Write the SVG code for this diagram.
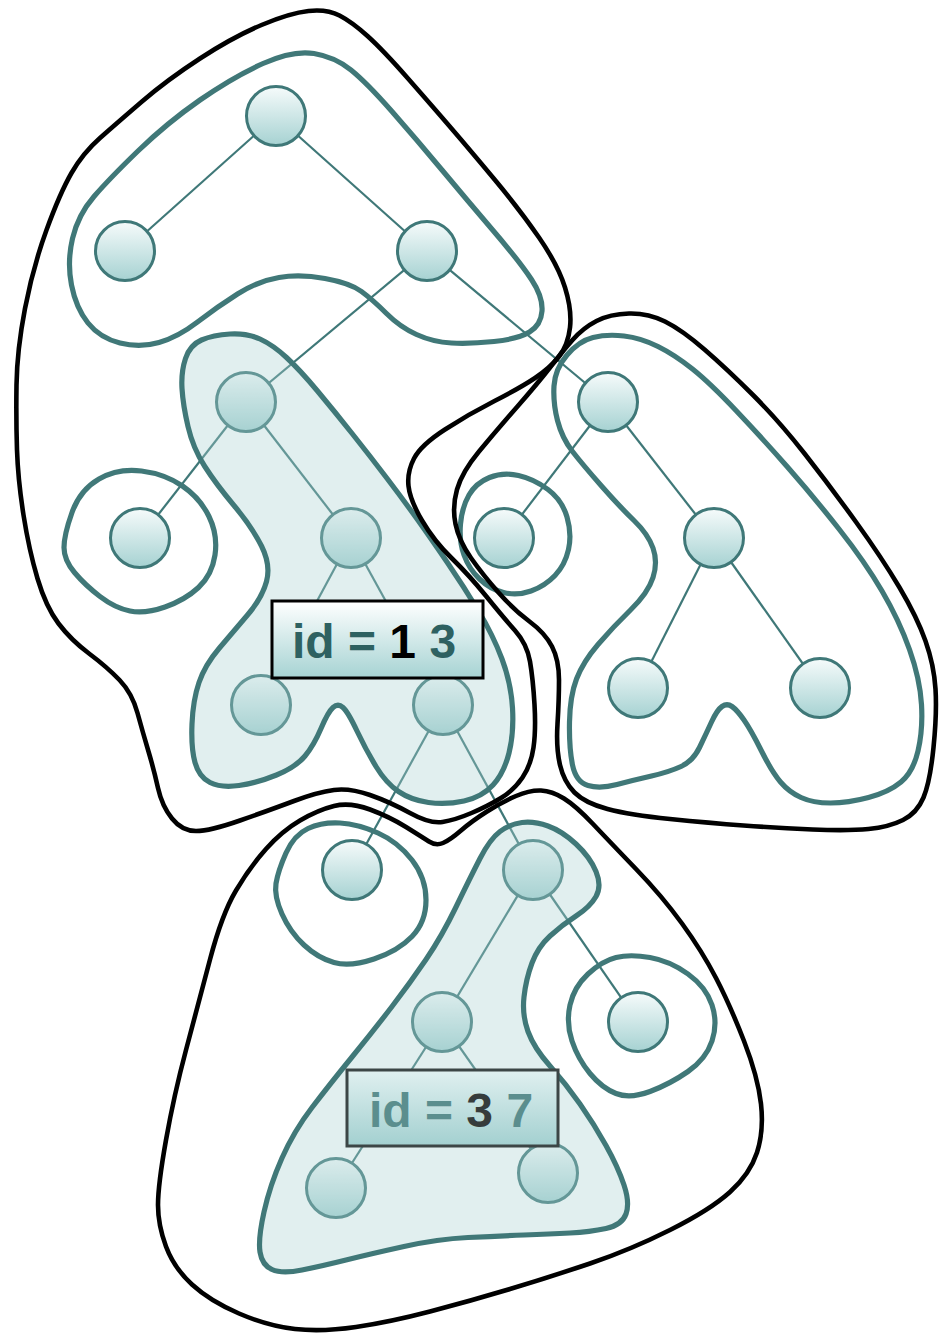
<svg xmlns="http://www.w3.org/2000/svg" width="940" height="1337" viewBox="0 0 940 1337">
<defs>
<linearGradient id="ng" x1="0" y1="0" x2="0" y2="1"><stop offset="0" stop-color="#f6fbfb"/><stop offset="1" stop-color="#a6d2d2"/></linearGradient>
<linearGradient id="bg1" x1="0" y1="0" x2="0" y2="1"><stop offset="0" stop-color="#ffffff"/><stop offset="1" stop-color="#a6d3d3"/></linearGradient>
<linearGradient id="bg2" x1="0" y1="0" x2="0" y2="1"><stop offset="0" stop-color="#e0f0f0"/><stop offset="1" stop-color="#a3d0d0"/></linearGradient>
<style>
.e{stroke:#3f7878;stroke-width:2.2;fill:none}
.n{fill:url(#ng);stroke:#3f7878;stroke-width:3}
.t{fill:none;stroke:#407878;stroke-width:5.2}
.s{fill:#a8d2d2;fill-opacity:0.35;stroke:#407878;stroke-width:5.2}
.k{fill:none;stroke:#000;stroke-width:4.6}
.lb{font-family:"Liberation Sans",Arial,sans-serif;font-weight:bold;font-size:48px}
</style>
</defs>
<g id="connectors">
<line class="e" x1="276" y1="116" x2="125" y2="251"/>
<line class="e" x1="276" y1="116" x2="427" y2="251"/>
<line class="e" x1="427" y1="251" x2="246" y2="402"/>
<line class="e" x1="427" y1="251" x2="608" y2="402"/>
<line class="e" x1="246" y1="402" x2="140" y2="538"/>
<line class="e" x1="246" y1="402" x2="351" y2="538"/>
<line class="e" x1="351" y1="538" x2="261" y2="705"/>
<line class="e" x1="351" y1="538" x2="443" y2="705"/>
<line class="e" x1="608" y1="402" x2="504" y2="538"/>
<line class="e" x1="608" y1="402" x2="714" y2="538"/>
<line class="e" x1="714" y1="538" x2="638" y2="688"/>
<line class="e" x1="714" y1="538" x2="820" y2="688"/>
<line class="e" x1="443" y1="705" x2="352" y2="870"/>
<line class="e" x1="443" y1="705" x2="533" y2="870"/>
<line class="e" x1="533" y1="870" x2="442" y2="1022"/>
<line class="e" x1="533" y1="870" x2="638" y2="1022"/>
<line class="e" x1="442" y1="1022" x2="336" y2="1188"/>
<line class="e" x1="442" y1="1022" x2="548" y2="1173"/>
</g>
<g id="n1"><circle class="n" cx="276" cy="116" r="29.5"/></g>
<g id="n2"><circle class="n" cx="125" cy="251" r="29.5"/></g>
<g id="n3"><circle class="n" cx="427" cy="251" r="29.5"/></g>
<g id="n4"><circle class="n" cx="246" cy="402" r="29.5"/></g>
<g id="n5"><circle class="n" cx="140" cy="538" r="29.5"/></g>
<g id="n6"><circle class="n" cx="351" cy="538" r="29.5"/></g>
<g id="n7"><circle class="n" cx="261" cy="705" r="29.5"/></g>
<g id="n8"><circle class="n" cx="443" cy="705" r="29.5"/></g>
<g id="n9"><circle class="n" cx="608" cy="402" r="29.5"/></g>
<g id="n10"><circle class="n" cx="504" cy="538" r="29.5"/></g>
<g id="n11"><circle class="n" cx="714" cy="538" r="29.5"/></g>
<g id="n12"><circle class="n" cx="638" cy="688" r="29.5"/></g>
<g id="n13"><circle class="n" cx="820" cy="688" r="29.5"/></g>
<g id="n14"><circle class="n" cx="352" cy="870" r="29.5"/></g>
<g id="n15"><circle class="n" cx="533" cy="870" r="29.5"/></g>
<g id="n16"><circle class="n" cx="638" cy="1022" r="29.5"/></g>
<g id="n17"><circle class="n" cx="442" cy="1022" r="29.5"/></g>
<g id="n18"><circle class="n" cx="336" cy="1188" r="29.5"/></g>
<g id="n19"><circle class="n" cx="548" cy="1173" r="29.5"/></g>
<g id="clusters">
<path id="c-top" class="t" d="M71.5,285 Q67,262 72.5,238.5 Q78,215 94,196.5 Q110,178 138.5,150.5 Q167,123 200,100 Q233,77 263,63.5 Q293,50 314,53.5 Q335,57 351,70 Q367,83 392,111.5 Q417,140 442,170 Q467,200 493.5,231 Q520,262 531.5,279.5 Q543,297 542,311 Q541,325 529.5,332 Q518,339 494,341.5 Q470,344 451.5,343 Q433,342 416.5,334.5 Q400,327 386.5,313.5 Q373,300 361.5,291.5 Q350,283 325,278.5 Q300,274 279,277.5 Q258,281 237.5,294 Q217,307 197.5,322 Q178,337 159,342.5 Q140,348 120,343 Q100,338 88,323 Q76,308 71.5,285 Z"/>
<path id="c-e" class="t" d="M64,547.5 Q64,535 72,512.5 Q80,490 99,479 Q118,468 141.5,471 Q165,474 182.5,486 Q200,498 209,516.5 Q218,535 215,555 Q212,575 198.5,587.5 Q185,600 165,607 Q145,614 130,611 Q115,608 100,596.5 Q85,585 74.5,572.5 Q64,560 64,547.5 Z"/>
<path id="c-13" class="s" d="M182,388.5 Q181,372 185.5,358.5 Q190,345 201.5,340 Q213,335 230,334 Q247,333 260,339 Q273,345 286.5,357.5 Q300,370 317.5,391 Q335,412 352.5,434 Q370,456 387.5,479 Q405,502 418.5,521 Q432,540 448,563.5 Q464,587 478.5,611 Q493,635 502,659 Q511,683 512.5,708 Q514,733 509,753 Q504,773 493,785 Q482,797 464,801 Q446,805 428.5,802.5 Q411,800 398.5,791.5 Q386,783 376,766.5 Q366,750 357,731 Q348,712 343,707.5 Q338,703 333,707.5 Q328,712 321,728.5 Q314,745 305,756 Q296,767 276.5,775 Q257,783 239,785.5 Q221,788 210,782.5 Q199,777 195,762.5 Q191,748 192,724 Q193,700 199,682.5 Q205,665 219,648.5 Q233,632 247.5,615 Q262,598 266.5,581.5 Q271,565 261.5,546 Q252,527 234,505.5 Q216,484 204.5,466 Q193,448 188,426.5 Q183,405 182,388.5 Z"/>
<path id="c-right" class="t" d="M554,386 Q555,369 567,355 Q579,341 593,337.5 Q607,334 624,336 Q641,338 658,346.5 Q675,355 692.5,369 Q710,383 736,410.5 Q762,438 787.5,467 Q813,496 839,529 Q865,562 882,591 Q899,620 909.5,649.5 Q920,679 921.5,704.5 Q923,730 918,751 Q913,772 901,782 Q889,792 868.5,797.5 Q848,803 830.5,803 Q813,803 801,797.5 Q789,792 780.5,782 Q772,772 761.5,751 Q751,730 744,720 Q737,710 732,706.5 Q727,703 722,706.5 Q717,710 711.5,722 Q706,734 699.5,747.5 Q693,761 681,766.5 Q669,772 651.5,776 Q634,780 617,784.5 Q600,789 588,785.5 Q576,782 572.5,765 Q569,748 569.5,722 Q570,696 576.5,679 Q583,662 598,644.5 Q613,627 630.5,610 Q648,593 653,577.5 Q658,562 653,548 Q648,534 634,520.5 Q620,507 601.5,486 Q583,465 572.5,451.5 Q562,438 557.5,420.5 Q553,403 554,386 Z"/>
<path id="c-j" class="t" d="M460.5,524 Q462,507 469,495 Q476,483 489.5,477.5 Q503,472 518.5,475.5 Q534,479 548,489.5 Q562,500 567,517 Q572,534 568.5,549.5 Q565,565 555,575.5 Q545,586 531,591 Q517,596 503.5,592.5 Q490,589 479.5,579 Q469,569 464,555 Q459,541 460.5,524 Z"/>
<path id="c-n" class="t" d="M276,883.5 Q278,871 286,853 Q294,835 308,828.5 Q322,822 340,823 Q358,824 378,833 Q398,842 412,860 Q426,878 426,900 Q426,922 412,936.5 Q398,951 374,959 Q350,967 334,962.5 Q318,958 304,945 Q290,932 282,914 Q274,896 276,883.5 Z"/>
<path id="c-p" class="t" d="M572,1041 Q566,1023 570,1005 Q574,987 588,974 Q602,961 616,957.5 Q630,954 650,957.5 Q670,961 688,974 Q706,987 712,1005 Q718,1023 712,1041 Q706,1059 688,1071.5 Q670,1084 650,1091.5 Q630,1099 616,1093.5 Q602,1088 590,1073.5 Q578,1059 572,1041 Z"/>
<path id="c-37" class="s" d="M260,1252 Q258,1239 264,1212 Q270,1185 282,1158 Q294,1131 312,1107.5 Q330,1084 352,1057 Q374,1030 392,1006.5 Q410,983 426,959.5 Q442,936 456,907 Q470,878 480,858.5 Q490,839 500,831.5 Q510,824 522,822.5 Q534,821 548,826 Q562,831 576,844 Q590,857 596,871.5 Q602,886 596,896.5 Q590,907 576,916 Q562,925 550,936 Q538,947 532,963 Q526,979 524,997 Q522,1015 528,1031.5 Q534,1048 550,1066 Q566,1084 580,1104 Q594,1124 606,1145.5 Q618,1167 624,1185 Q630,1203 626,1214 Q622,1225 606,1228.5 Q590,1232 570,1233 Q550,1234 524,1235 Q498,1236 468,1237.5 Q438,1239 404,1246.5 Q370,1254 346,1260 Q322,1266 302,1270 Q282,1274 272,1269.5 Q262,1265 260,1252 Z"/>
<path id="k-left" class="k" d="M17,450 Q16,420 16.5,385 Q17,350 25,308.5 Q33,267 46.5,230 Q60,193 71.5,173 Q83,153 100,138 Q117,123 142,101.5 Q167,80 200,58.5 Q233,37 261.5,25 Q290,13 308.5,11 Q327,9 339.5,15.5 Q352,22 367.5,36 Q383,50 408,78.5 Q433,107 451.5,128.5 Q470,150 495,180 Q520,210 539,237.5 Q558,265 565,287.5 Q572,310 570,327.5 Q568,345 559,356.5 Q550,368 535,378 Q520,388 494.5,401 Q469,414 445,429.5 Q421,445 414,458.5 Q407,472 408.5,486 Q410,500 422,520.5 Q434,541 451.5,558 Q469,575 486,596 Q503,617 515,630.5 Q527,644 530,661.5 Q533,679 534.5,704.5 Q536,730 533.5,747.5 Q531,765 522.5,777.5 Q514,790 501,798 Q488,806 471.5,813 Q455,820 442.5,822 Q430,824 410,813 Q390,802 370,795 Q350,788 334,790 Q318,792 294,801 Q270,810 240,820.5 Q210,831 196,831 Q182,831 172,818.5 Q162,806 158,788 Q154,770 148.5,751.5 Q143,733 137.5,713 Q132,693 119.5,680 Q107,667 89,653.5 Q71,640 58.5,623.5 Q46,607 37.5,578.5 Q29,550 23.5,515 Q18,480 17,450 Z"/>
<path id="k-right" class="k" d="M629,313.5 Q648,313 665,321.5 Q682,330 704.5,349.5 Q727,369 753,395 Q779,421 804.5,453.5 Q830,486 856,522 Q882,558 899.5,587.5 Q917,617 925.5,641 Q934,665 935.5,689 Q937,713 933.5,747.5 Q930,782 923.5,797.5 Q917,813 903,820 Q889,827 868.5,829 Q848,831 812.5,829.5 Q777,828 743.5,825.5 Q710,823 670,819 Q630,815 607.5,809 Q585,803 574.5,792.5 Q564,782 560,765 Q556,748 557.5,724 Q559,700 559,680 Q559,660 552,646.5 Q545,633 529.5,621.5 Q514,610 498.5,592.5 Q483,575 471,558 Q459,541 455.5,524 Q452,507 457,489.5 Q462,472 479,451.5 Q496,431 517,407 Q538,383 550,367.5 Q562,352 572.5,340 Q583,328 596.5,321 Q610,314 629,313.5 Z"/>
<path id="k-bottom" class="k" d="M158,1205 Q158,1185 166,1140 Q174,1095 186,1050 Q198,1005 210,959.5 Q222,914 236,890.5 Q250,867 266,849 Q282,831 300,820.5 Q318,810 334,806 Q350,802 370,809.5 Q390,817 406,827 Q422,837 429,841.5 Q436,846 443,843 Q450,840 461,830.5 Q472,821 487,811.5 Q502,802 516,796 Q530,790 541,790.5 Q552,791 564,798.5 Q576,806 593,824 Q610,842 636,869 Q662,896 682,923.5 Q702,951 716,978 Q730,1005 744,1041 Q758,1077 761,1104 Q764,1131 757,1152.5 Q750,1174 730,1192 Q710,1210 670,1230 Q630,1250 590,1263.5 Q550,1277 510,1289 Q470,1301 430,1311.5 Q390,1322 356,1327 Q322,1332 295,1329 Q268,1326 239,1313.5 Q210,1301 192,1284.5 Q174,1268 166,1246.5 Q158,1225 158,1205 Z"/>
</g>
<g id="label1">
<rect x="272" y="601" width="211" height="77" fill="url(#bg1)" stroke="#000" stroke-width="3"/>
<text class="lb" x="292" y="658" fill="#2e6161">id = <tspan fill="#000">1</tspan> 3</text>
</g>
<g id="label2">
<rect x="347" y="1070" width="211" height="76" fill="url(#bg2)" stroke="#3c4646" stroke-width="3"/>
<text class="lb" x="369" y="1127" fill="#5b8e8e">id = <tspan fill="#363c3c">3</tspan> 7</text>
</g>
</svg>
